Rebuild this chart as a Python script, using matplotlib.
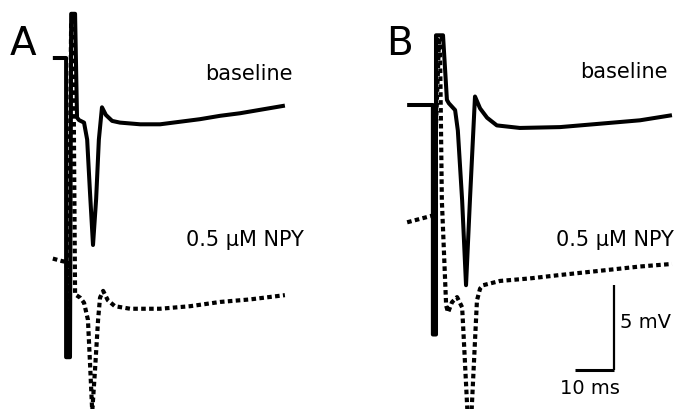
import numpy as np
import matplotlib
matplotlib.use("Agg")
import matplotlib.pyplot as plt

# time (ms, re: stimulus) and voltage (mV, re: pre-stimulus baseline of the control trace)
# panel A, baseline (solid)
a_base_t = [-4.4, -1.0, -1.0, 0.0, 0.3, 1.3, 1.8, 2.3, 3.6, 4.4, 5.1, 5.9,
            6.7, 7.4, 8.2, 9.2, 10.8, 12.8, 18.0, 23.1, 28.2, 33.3, 38.5,
            43.6, 48.7, 55.1]
a_base_v = [0.0, 0.0, -17.6, -17.6, 2.6, 2.6, -3.5, -3.65, -3.8, -4.8, -7.8,
            -11.0, -8.3, -4.8, -2.9, -3.35, -3.7, -3.8, -3.9, -3.9, -3.75,
            -3.6, -3.4, -3.25, -3.05, -2.8]
# panel A, 0.5 uM NPY (dotted)
a_npy_t = [-4.4, -2.0, -0.8, -0.5, 0.3, 0.8, 1.3, 2.6, 3.6, 4.6, 5.1, 5.7,
           6.4, 7.2, 7.7, 8.5, 9.7, 11.5, 15.4, 23.1, 30.8, 38.5, 46.2, 55.1]
a_npy_v = [-11.8, -11.95, -12.0, -17.5, 2.2, 2.2, -13.9, -14.1, -14.4, -15.4,
           -17.8, -20.8, -18.4, -15.4, -14.1, -13.7, -14.25, -14.6, -14.75,
           -14.75, -14.6, -14.35, -14.2, -13.95]

# panel B, baseline (solid)
b_base_t = [-7.4, -0.8, -0.8, 0.0, 0.0, 1.8, 2.8, 3.3, 4.9, 5.6, 6.7, 7.7,
            8.7, 10.0, 11.3, 13.1, 15.6, 21.5, 31.8, 42.1, 52.3, 60.5]
b_base_v = [0.0, 0.0, -13.5, -13.5, 4.1, 4.1, 0.3, 0.1, -0.3, -1.5, -5.6,
            -10.6, -5.6, 0.5, -0.2, -0.75, -1.2, -1.35, -1.3, -1.1, -0.9, -0.6]
# panel B, 0.5 uM NPY (dotted)
b_npy_t = [-7.4, -4.1, -0.8, 0.8, 1.0, 1.5, 2.6, 3.1, 4.1, 5.4, 6.7, 7.0,
           8.6, 10.5, 11.3, 12.1, 16.4, 24.1, 31.8, 42.1, 52.3, 60.5]
b_npy_v = [-6.9, -6.7, -6.5, 4.0, 4.0, -5.6, -11.8, -12.2, -11.6, -11.3,
           -11.9, -13.2, -20.5, -11.5, -10.8, -10.6, -10.35, -10.2, -10.0,
           -9.75, -9.5, -9.35]

scale_ms = 10
scale_mv = 5

# layout: pixels per unit and panel origins
px_ms = 3.9
px_mv = 17.0
W, H = 677, 409

fig = plt.figure(figsize=(W / 100, H / 100), dpi=100)
ax = fig.add_axes([0, 0, 1, 1])
ax.set_xlim(0, W / px_ms)
ax.set_ylim(-H / px_mv, 0)
ax.axis("off")

origin_a = (70 / px_ms, -58 / px_mv)
origin_b = (436 / px_ms, -105 / px_mv)

solid_kw = dict(color="black", lw=2.9, solid_joinstyle="round",
                solid_capstyle="butt")
dot_kw = dict(color="black", lw=3.0, linestyle=(0, (1.1, 0.8)),
              dash_capstyle="butt")

for (ox, oy), bt, bv, nt, nv in [
        (origin_a, a_base_t, a_base_v, a_npy_t, a_npy_v),
        (origin_b, b_base_t, b_base_v, b_npy_t, b_npy_v)]:
    ax.plot(np.array(bt) + ox, np.array(bv) + oy, **solid_kw)
    ax.plot(np.array(nt) + ox, np.array(nv) + oy, **dot_kw)

# scale bar
cx, cy = 614 / px_ms, -370 / px_mv
ax.plot([cx, cx], [cy, cy + scale_mv], color="black", lw=1.6,
        solid_capstyle="butt")
ax.plot([cx - scale_ms, cx], [cy, cy], color="black", lw=2.2,
        solid_capstyle="butt")


def ftext(x, y, s, **kw):
    fig.text(x / W, 1 - y / H, s, family="DejaVu Sans", **kw)


ftext(10, 44, "A", fontsize=28, va="center", ha="left")
ftext(386, 44, "B", fontsize=28, va="center", ha="left")
ftext(293, 74, "baseline", fontsize=15, va="center", ha="right")
ftext(668, 72, "baseline", fontsize=15, va="center", ha="right")
ftext(304, 240, "0.5 \u00b5M NPY", fontsize=15, va="center", ha="right")
ftext(674, 240, "0.5 \u00b5M NPY", fontsize=15, va="center", ha="right")
ftext(620, 322, "%d mV" % scale_mv, fontsize=14, va="center", ha="left")
ftext(590, 388, "%d ms" % scale_ms, fontsize=14, va="center", ha="center")

fig.savefig("out.png", dpi=100)
